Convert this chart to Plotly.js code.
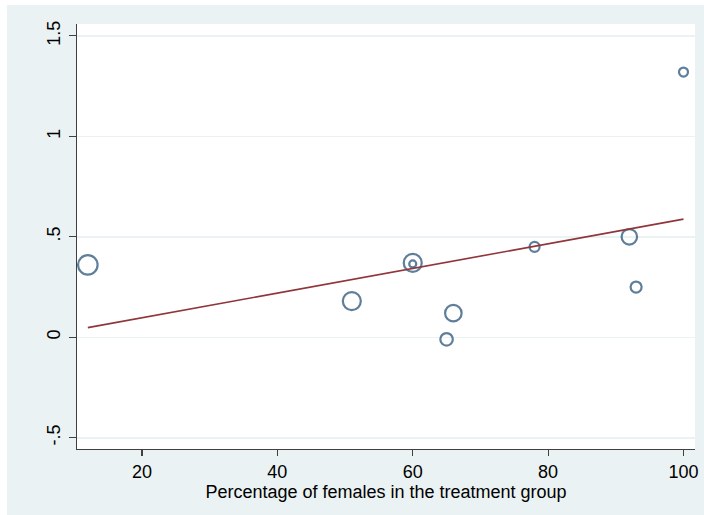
<!DOCTYPE html>
<html>
<head>
<meta charset="utf-8">
<script src="https://cdn.plot.ly/plotly-3.0.1.min.js"></script>
<style>
  html, body { margin: 0; padding: 0; background: #ffffff; width: 704px; height: 515px; overflow: hidden; }
  #chart { position: absolute; left: 7px; top: 5px; width: 697px; height: 510px; }
</style>
</head>
<body>
<div id="chart"></div>
<script>
// Study-level data: percentage of females vs effect size, bubble size ~ weight
const pctFemale = [12, 51, 60, 60, 65, 66, 78, 92, 93, 100];
const effect    = [0.36, 0.18, 0.37, 0.365, -0.01, 0.12, 0.45, 0.50, 0.25, 1.32];
const bubble    = [19.5, 18, 18, 7, 12.5, 16.5, 10, 15.5, 11, 9];

// Fitted meta-regression line (endpoints)
const fitX = [12, 100];
const fitY = [0.048, 0.588];

const xTicks = [20, 40, 60, 80, 100];
const yTicks = [-0.5, 0, 0.5, 1, 1.5];
const yTickText = ['-.5', '0', '.5', '1', '1.5'];

const navy = '#1A476F';
const cranberry = '#90353B';
const bg = '#EAF2F3';
const axisCol = '#404040';

const traces = [
  {
    x: pctFemale, y: effect, type: 'scatter', mode: 'markers',
    marker: { symbol: 'circle-open', size: bubble, color: navy, line: { color: navy, width: 2.2 } },
    showlegend: false, hoverinfo: 'x+y'
  },
  {
    x: fitX, y: fitY, type: 'scatter', mode: 'lines',
    line: { color: cranberry, width: 1.6 },
    showlegend: false, hoverinfo: 'skip'
  }
];

const layout = {
  width: 697, height: 510,
  paper_bgcolor: bg, plot_bgcolor: '#ffffff',
  margin: { l: 70, r: 9, t: 19, b: 66 },
  font: { family: 'Liberation Sans, Arial, sans-serif', size: 18, color: '#000000' },
  xaxis: {
    range: [10.4, 101.7], tickvals: xTicks, ticks: 'outside', ticklen: 6, tickwidth: 1.2, tickcolor: axisCol,
    showline: true, linecolor: axisCol, linewidth: 1.3, showgrid: false, zeroline: false,
    tickfont: { size: 18 },
    title: { text: 'Percentage of females in the treatment group', font: { size: 18 }, standoff: 0 }
  },
  yaxis: {
    range: [-0.556, 1.559], tickvals: yTicks, ticktext: yTickText, tickangle: -90,
    ticks: 'outside', ticklen: 7, tickwidth: 1.2, tickcolor: axisCol, ticklabelstandoff: 2,
    showline: true, linecolor: axisCol, linewidth: 1.3,
    showgrid: true, gridcolor: bg, gridwidth: 1.5, zeroline: false,
    tickfont: { size: 18 }
  },
  hovermode: 'closest'
};

Plotly.newPlot('chart', traces, layout, { displayModeBar: false, staticPlot: true });
</script>
</body>
</html>
